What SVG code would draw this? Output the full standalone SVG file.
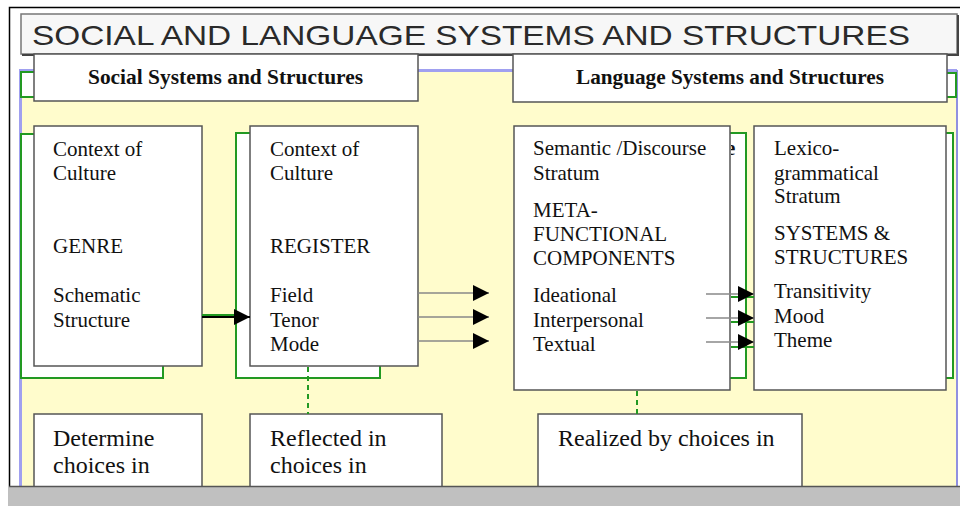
<svg xmlns="http://www.w3.org/2000/svg" width="960" height="506" viewBox="0 0 960 506">
<defs>
<style>
.box{fill:#fff;stroke:#555;stroke-width:1.5}
.back{fill:#fff;stroke:#229922;stroke-width:2}
.t{font-family:"Liberation Serif","Times New Roman",serif;font-size:21px;fill:#111}
.tb{font-family:"Liberation Serif","Times New Roman",serif;font-size:24px;fill:#111}
.th{font-family:"Liberation Serif","Times New Roman",serif;font-size:21px;font-weight:bold;fill:#111}
.arr{stroke:#888;stroke-width:1.5;fill:none;marker-end:url(#ah)}
.grn{stroke:#229922;stroke-width:2;fill:none}
.dash{stroke:#229922;stroke-width:2;stroke-dasharray:5,4;fill:none}
</style>
<marker id="ah" markerUnits="userSpaceOnUse" markerWidth="16" markerHeight="16" refX="16" refY="8" orient="auto">
<path d="M0,0 L16,8 L0,16 z" fill="#000"/>
</marker>
<clipPath id="clipE"><rect x="731" y="130" width="14" height="40"/></clipPath>
</defs>
<rect x="0" y="0" width="960" height="506" fill="#fff"/>
<path d="M9.5,506 V7.5 H960" fill="none" stroke="#000" stroke-width="1.5"/>
<g id="title">
<rect x="21" y="14" width="936" height="40" fill="#f7f7f7" stroke="#777" stroke-width="1.5"/>
<path d="M22,55 H958 V15" fill="none" stroke="#444" stroke-width="2"/>
<text x="32" y="45" font-family="'Liberation Sans',Arial,sans-serif" font-size="28" fill="#2a2a2a" textLength="878" lengthAdjust="spacingAndGlyphs">SOCIAL AND LANGUAGE SYSTEMS AND STRUCTURES</text>
</g>
<g id="panel">
<rect x="20" y="70" width="937" height="416" fill="#fffccc"/>
<path d="M20.5,486 V70.5 H957" fill="none" stroke="#a0a0f0" stroke-width="3"/>
<line x1="957" y1="70" x2="957" y2="486" stroke="#9090e0" stroke-width="2"/>
</g>
<g id="social-header">
<rect x="21" y="72" width="380" height="25" class="back"/>
<rect x="34" y="54" width="384" height="47" class="box"/>
<text x="88" y="84" class="th" textLength="275" lengthAdjust="spacingAndGlyphs">Social Systems and Structures</text>
</g>
<g id="language-header">
<rect x="530" y="73" width="426" height="24" class="back"/>
<rect x="513" y="54" width="434" height="48" class="box"/>
<text x="576" y="84" class="th" textLength="308" lengthAdjust="spacingAndGlyphs">Language Systems and Structures</text>
</g>
<g id="genre">
<rect x="21" y="134" width="142" height="244" class="back"/>
<rect x="34" y="126" width="168" height="240" class="box"/>
<text class="t"><tspan x="53" y="156">Context of</tspan><tspan x="53" y="180">Culture</tspan><tspan x="53" y="253">GENRE</tspan><tspan x="53" y="302">Schematic</tspan><tspan x="53" y="327">Structure</tspan></text>
</g>
<g id="register">
<rect x="236" y="133" width="144" height="245" class="back"/>
<rect x="250" y="126" width="168" height="240" class="box"/>
<text class="t"><tspan x="270" y="156">Context of</tspan><tspan x="270" y="180">Culture</tspan><tspan x="270" y="253">REGISTER</tspan><tspan x="270" y="302">Field</tspan><tspan x="270" y="327">Tenor</tspan><tspan x="270" y="351">Mode</tspan></text>
</g>
<g id="semantic">
<rect x="530" y="133" width="216" height="245" class="back"/>
<text x="726" y="155" class="t" clip-path="url(#clipE)" font-weight="bold">e</text>
<rect x="514" y="126" width="216" height="264" class="box"/>
<text class="t"><tspan x="533" y="155">Semantic /Discourse</tspan><tspan x="533" y="180">Stratum</tspan><tspan x="533" y="217">META-</tspan><tspan x="533" y="241">FUNCTIONAL</tspan><tspan x="533" y="265">COMPONENTS</tspan><tspan x="533" y="302">Ideational</tspan><tspan x="533" y="327">Interpersonal</tspan><tspan x="533" y="351">Textual</tspan></text>
</g>
<g id="lexicogrammar">
<rect x="770" y="133" width="183" height="245" class="back"/>
<rect x="754" y="126" width="192" height="264" class="box"/>
<text class="t"><tspan x="774" y="155">Lexico-</tspan><tspan x="774" y="180">grammatical</tspan><tspan x="774" y="203">Stratum</tspan><tspan x="774" y="240">SYSTEMS &amp;</tspan><tspan x="774" y="264">STRUCTURES</tspan><tspan x="774" y="298">Transitivity</tspan><tspan x="774" y="323">Mood</tspan><tspan x="774" y="347">Theme</tspan></text>
</g>
<g id="determine">
<rect x="34" y="414" width="168" height="80" class="box"/>
<text class="tb"><tspan x="53" y="446">Determine</tspan><tspan x="53" y="473">choices in</tspan></text>
</g>
<g id="reflected">
<rect x="250" y="414" width="192" height="80" class="box"/>
<text class="tb"><tspan x="270" y="446">Reflected in</tspan><tspan x="270" y="473">choices in</tspan></text>
</g>
<g id="realized">
<rect x="538" y="414" width="264" height="80" class="box"/>
<text class="tb"><tspan x="558" y="446">Realized by choices in</tspan></text>
</g>
<g id="connectors">
<line x1="202" y1="315" x2="236" y2="315" class="grn"/>
<line x1="202" y1="317" x2="250" y2="317" stroke="#000" stroke-width="2" marker-end="url(#ah)"/>
<line x1="418" y1="293" x2="489" y2="293" class="arr"/>
<line x1="418" y1="317" x2="489" y2="317" class="arr" stroke="#229922" stroke-width="2.5"/>
<line x1="418" y1="341" x2="489" y2="341" class="arr"/>
<line x1="731" y1="297" x2="754" y2="297" class="grn"/>
<line x1="731" y1="322" x2="754" y2="322" class="grn"/>
<line x1="731" y1="347" x2="754" y2="347" class="grn"/>
<line x1="706" y1="294" x2="754" y2="294" class="arr"/>
<line x1="706" y1="318" x2="754" y2="318" class="arr"/>
<line x1="706" y1="342" x2="754" y2="342" class="arr"/>
<line x1="308" y1="367" x2="308" y2="414" class="dash"/>
<line x1="637" y1="391" x2="637" y2="414" class="dash"/>
</g>
<g id="statusbar">
<rect x="9" y="486" width="951" height="20" fill="#c0c0c0"/>
<line x1="9" y1="486.5" x2="960" y2="486.5" stroke="#555" stroke-width="1.5"/>
</g>
</svg>
